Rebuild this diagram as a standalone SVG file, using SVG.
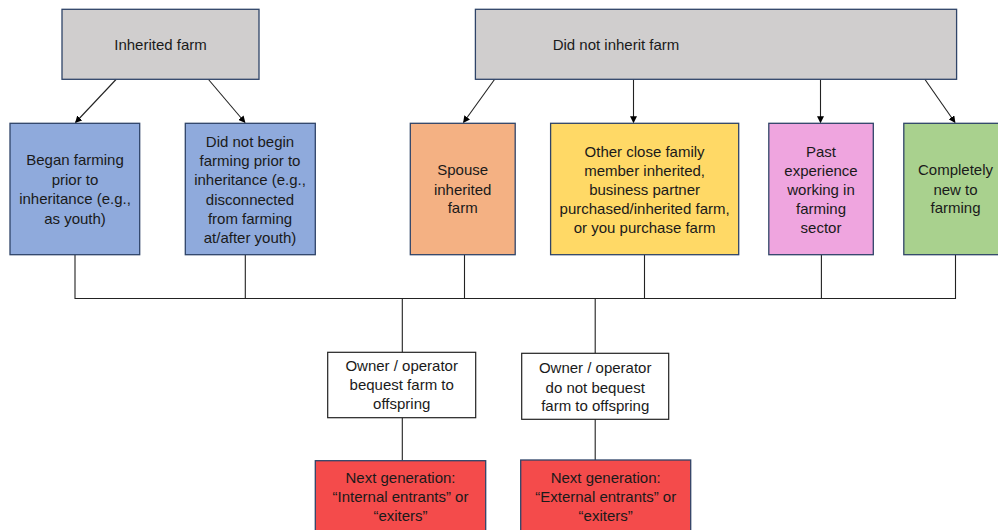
<svg xmlns="http://www.w3.org/2000/svg" width="998" height="530" viewBox="0 0 998 530">
<style>
.box{stroke:#2f4468;stroke-width:1.3}
.wb{fill:#fff;stroke:#222;stroke-width:1.2}
.t{font-family:"Liberation Sans",Arial,sans-serif;font-size:15px;fill:#1a1a1a;text-anchor:middle}
.ln{stroke:#222;stroke-width:1.1;fill:none}
</style>
<defs>
<marker id="ah" viewBox="0 0 10 10" refX="9" refY="5" markerWidth="7" markerHeight="7" orient="auto" markerUnits="userSpaceOnUse">
<path d="M0,0 L10,5 L0,10 z" fill="#000"/>
</marker>
</defs>
<rect width="998" height="530" fill="#fff"/>
<g id="connectors">
<line class="ln" x1="116" y1="79.5" x2="75.5" y2="122.5" marker-end="url(#ah)"/>
<line class="ln" x1="208.5" y1="79.5" x2="245" y2="122.5" marker-end="url(#ah)"/>
<line class="ln" x1="494.5" y1="79.5" x2="463.5" y2="122.5" marker-end="url(#ah)"/>
<line class="ln" x1="633.5" y1="79.5" x2="633.5" y2="122.5" marker-end="url(#ah)"/>
<line class="ln" x1="820.5" y1="79.5" x2="820.5" y2="122.5" marker-end="url(#ah)"/>
<line class="ln" x1="925" y1="79.5" x2="955" y2="122.5" marker-end="url(#ah)"/>
<path class="ln" d="M75,255 V298.5 H955.5 V255 M245.3,255 V298.5 M464.5,255 V298.5 M644.5,255 V298.5 M821.4,255 V298.5"/>
<path class="ln" d="M402.3,298.5 V352.3 M595.2,298.5 V353.3 M402.3,417.7 V460.7 M595.2,419.3 V460"/>
</g>
<g id="inherited">
<rect class="box" x="62" y="9.3" width="197" height="70" fill="#d0cece"/>
<text class="t" x="160.5" y="49.5">Inherited farm</text>
</g>
<g id="notinherited">
<rect class="box" x="475.4" y="9.3" width="481.2" height="70" fill="#d0cece"/>
<text class="t" x="616" y="49.5">Did not inherit farm</text>
</g>
<g id="began">
<rect class="box" x="10" y="123.3" width="129.7" height="131.4" fill="#8faadc"/>
<text class="t" x="75" y="165.3">Began farming</text>
<text class="t" x="75" y="185.3">prior to</text>
<text class="t" x="75" y="204.3">inheritance (e.g.,</text>
<text class="t" x="75" y="223.8">as youth)</text>
</g>
<g id="notbegin">
<rect class="box" x="185.3" y="123.3" width="130" height="131.4" fill="#8faadc"/>
<text class="t" x="250" y="146.8">Did not begin</text>
<text class="t" x="250" y="166.3">farming prior to</text>
<text class="t" x="250" y="185.3">inheritance (e.g.,</text>
<text class="t" x="250" y="204.8">disconnected</text>
<text class="t" x="250" y="223.8">from farming</text>
<text class="t" x="250" y="242.8">at/after youth)</text>
</g>
<g id="spouse">
<rect class="box" x="410.3" y="123.3" width="104.9" height="131.4" fill="#f4b183"/>
<text class="t" x="462.7" y="174.8">Spouse</text>
<text class="t" x="462.7" y="194.8">inherited</text>
<text class="t" x="462.7" y="213.3">farm</text>
</g>
<g id="other">
<rect class="box" x="550.6" y="123.3" width="188.1" height="131.4" fill="#ffd966"/>
<text class="t" x="644.6" y="157.3">Other close family</text>
<text class="t" x="644.6" y="176.3">member inherited,</text>
<text class="t" x="644.6" y="194.8">business partner</text>
<text class="t" x="644.6" y="214.3">purchased/inherited farm,</text>
<text class="t" x="644.6" y="232.8">or you purchase farm</text>
</g>
<g id="past">
<rect class="box" x="768.8" y="123.3" width="104.5" height="131.4" fill="#efa5df"/>
<text class="t" x="821" y="157.3">Past</text>
<text class="t" x="821" y="176.3">experience</text>
<text class="t" x="821" y="194.8">working in</text>
<text class="t" x="821" y="214.3">farming</text>
<text class="t" x="821" y="232.8">sector</text>
</g>
<g id="new">
<rect class="box" x="903.8" y="123.3" width="104" height="131.4" fill="#a9d18e"/>
<text class="t" x="955.5" y="174.8">Completely</text>
<text class="t" x="955.5" y="194.8">new to</text>
<text class="t" x="955.5" y="213.3">farming</text>
</g>
<g id="bequest">
<rect class="wb" x="327.7" y="352.3" width="148" height="65.4"/>
<text class="t" x="401.7" y="371.3">Owner / operator</text>
<text class="t" x="401.7" y="390.3">bequest farm to</text>
<text class="t" x="401.7" y="409.3">offspring</text>
</g>
<g id="nobequest">
<rect class="wb" x="521.7" y="353.3" width="147" height="66"/>
<text class="t" x="595.2" y="372.6">Owner / operator</text>
<text class="t" x="595.2" y="392.6">do not bequest</text>
<text class="t" x="595.2" y="411.3">farm to offspring</text>
</g>
<g id="internal">
<rect class="box" x="315.3" y="460.7" width="170.4" height="75" fill="#f44b4b"/>
<text class="t" x="400.5" y="482.6">Next generation:</text>
<text class="t" x="400.5" y="502">“Internal entrants” or</text>
<text class="t" x="400.5" y="521.3">“exiters”</text>
</g>
<g id="external">
<rect class="box" x="520.7" y="460" width="170" height="75" fill="#f44b4b"/>
<text class="t" x="605.7" y="482.6">Next generation:</text>
<text class="t" x="605.7" y="502">“External entrants” or</text>
<text class="t" x="605.7" y="521.3">“exiters”</text>
</g>
</svg>
